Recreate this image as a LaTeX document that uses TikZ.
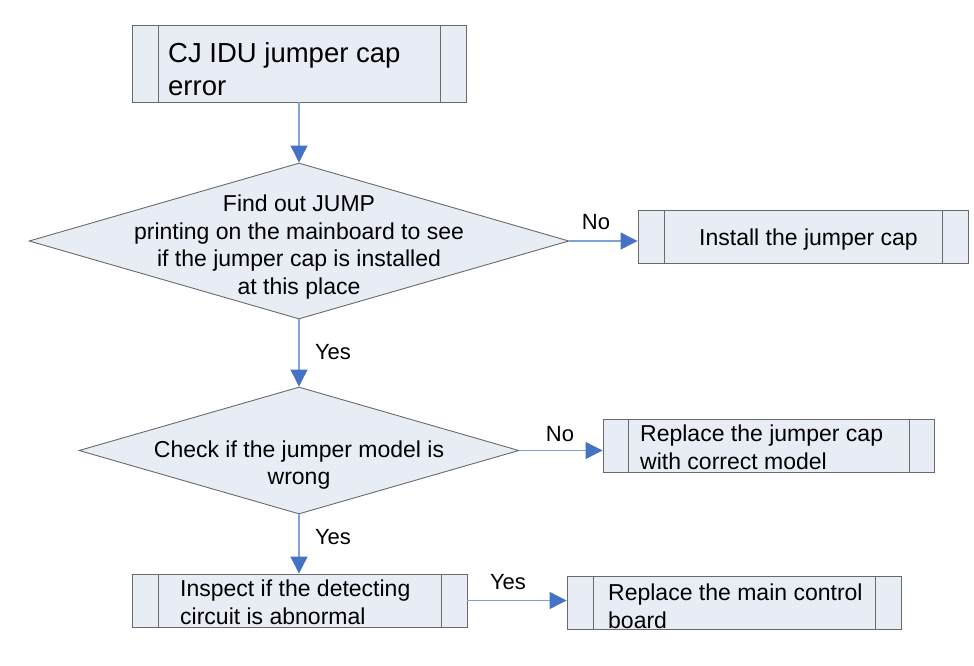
\documentclass[tikz,border=0pt]{standalone}
\usepackage{fontspec}
\setmainfont{Liberation Sans}
\usetikzlibrary{shapes.geometric,arrows.meta,calc}
\definecolor{boxfill}{HTML}{E8ECF5}
\definecolor{boxline}{HTML}{6A6A6A}
\definecolor{arrline}{HTML}{7FA3D6}
\definecolor{arrhead}{HTML}{4472C4}
\tikzset{
  procbox/.style={draw=boxline, fill=boxfill, line width=0.9pt, rectangle, inner sep=0pt,
    minimum height=53pt, font=\fontsize{23}{28}\selectfont,
    path picture={
      \draw[boxline, line width=0.9pt] ([xshift=#1]path picture bounding box.north west) -- ([xshift=#1]path picture bounding box.south west);
      \draw[boxline, line width=0.9pt] ([xshift=-#1]path picture bounding box.north east) -- ([xshift=-#1]path picture bounding box.south east);
    }},
  decbox/.style={draw=boxline, fill=boxfill, line width=0.9pt, diamond, inner sep=0pt},
  dtext/.style={align=center, font=\fontsize{23}{27.5}\selectfont, inner sep=0pt},
  btext/.style={align=left, font=\fontsize{23}{28}\selectfont, inner sep=0pt, anchor=west},
  flow/.style={draw=arrline, line width=1.1pt, -{Triangle[length=17pt,width=17pt,color=arrhead,fill=arrhead]}},
  lbl/.style={font=\fontsize{22}{26}\selectfont, inner sep=0pt}
}
\begin{document}
\begin{tikzpicture}[x=1pt,y=-1pt]
\useasboundingbox (0,0) rectangle (974,666);
% boxes
\node[procbox=26pt, minimum width=334pt, minimum height=77pt] (start) at (299,63.5) {};
\node[btext, font=\fontsize{27.5}{33}\selectfont] (starttxt) at (168,69) {CJ IDU jumper cap\\error};
\node[procbox=26pt, minimum width=330pt] (install) at (803,236.5) {};
\node[btext] (installtxt) at (699,240) {Install the jumper cap};
\node[procbox=25pt, minimum width=331pt] (repjump) at (768.5,445.5) {};
\node[btext] (repjumptxt) at (640,447) {Replace the jumper cap\\with correct model};
\node[procbox=26pt, minimum width=335pt] (inspect) at (299.5,600.5) {};
\node[btext] (inspecttxt) at (180,602) {Inspect if the detecting\\circuit is abnormal};
\node[procbox=26pt, minimum width=334pt] (repmain) at (734,602.5) {};
\node[btext] (repmaintxt) at (608,606) {Replace the main control\\board};
% decisions
\node[decbox, minimum width=540pt, minimum height=156pt] (d1) at (299,241) {};
\node[dtext] (d1txt) at (299,247) {Find out JUMP\\printing on the mainboard to see\\if the jumper cap is installed\\at this place};
\node[decbox, minimum width=440pt, minimum height=127pt] (d2) at (299,450.5) {};
\node[dtext] (d2txt) at (299,465) {Check if the jumper model is\\wrong};
% connectors
\draw[flow] (start.south -| d1.north) -- (d1.north);
\draw[flow] (d1.east) -- (d1.east -| install.west);
\draw[flow] (d1.south) -- (d2.north);
\draw[flow] (d2.east) -- (d2.east -| repjump.west);
\draw[flow] (d2.south) -- (d2.south |- inspect.north);
\draw[flow] (inspect.east) -- (inspect.east -| repmain.west);
% labels
\node[lbl] (no1) at (596,222) {No};
\node[lbl] (yes1) at (333,352) {Yes};
\node[lbl] (no2) at (560,434) {No};
\node[lbl] (yes2) at (333,537) {Yes};
\node[lbl] (yes3) at (508,582) {Yes};
\end{tikzpicture}
\end{document}
